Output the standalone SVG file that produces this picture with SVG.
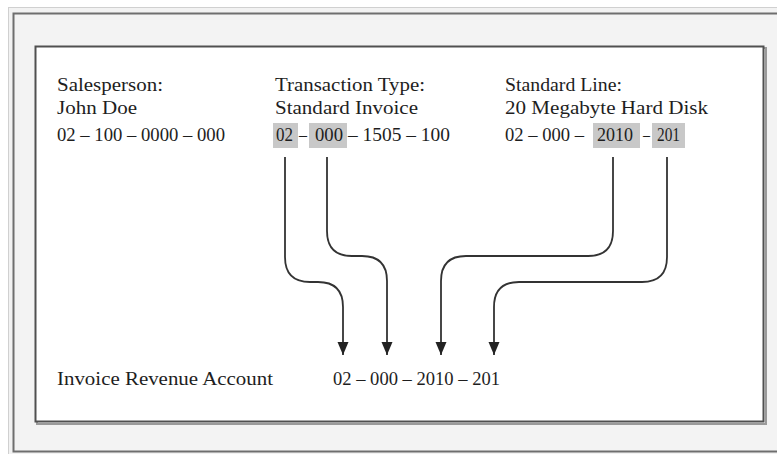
<svg xmlns="http://www.w3.org/2000/svg" width="777" height="454" viewBox="0 0 777 454">
  <defs>
    <style>
      .t { font-family: "Liberation Serif", "DejaVu Serif", serif; font-size: 19px; fill: #1e1e1e; }
      .hl { fill: #c8c8c8; }
      .conn { fill: none; stroke: #333; stroke-width: 1.8; }
    </style>
    <marker id="arrow" markerUnits="userSpaceOnUse" markerWidth="13" markerHeight="12" refX="13" refY="6" orient="auto" viewBox="0 0 13 12">
      <path d="M0,0.5 L13,6 L0,11.5 Z" fill="#222"/>
    </marker>
  </defs>

  <!-- page background and outer frame -->
  <rect x="0" y="0" width="777" height="454" fill="#ffffff"/>
  <rect x="8.5" y="7.5" width="790" height="460" fill="#f2f2f2" stroke="#d0d0d0" stroke-width="1"/>
  <rect x="13.5" y="13.5" width="790" height="438" fill="#f3f3f3" stroke="#6e6e6e" stroke-width="2"/>

  <!-- inner box -->
  <g id="panel">
    <rect x="37" y="48" width="729" height="376" fill="none" stroke="#9a9a9a" stroke-width="2"/>
    <rect x="35.5" y="46.5" width="728" height="375" fill="#ffffff" stroke="#505050" stroke-width="2"/>
  </g>

  <g id="salesperson">
    <text class="t" x="57" y="91" textLength="106" lengthAdjust="spacingAndGlyphs">Salesperson:</text>
    <text class="t" x="57" y="114" textLength="80" lengthAdjust="spacingAndGlyphs">John Doe</text>
    <text class="t" x="57" y="141" textLength="168" lengthAdjust="spacingAndGlyphs">02 – 100 – 0000 – 000</text>
  </g>

  <g id="transaction-type">
    <text class="t" x="275" y="91" textLength="150" lengthAdjust="spacingAndGlyphs">Transaction Type:</text>
    <text class="t" x="275" y="114" textLength="143" lengthAdjust="spacingAndGlyphs">Standard Invoice</text>
    <rect class="hl" x="273" y="123" width="25" height="25"/>
    <rect class="hl" x="309" y="123" width="38" height="25"/>
    <text class="t" x="276" y="141" textLength="17" lengthAdjust="spacingAndGlyphs">02</text>
    <text class="t" x="299" y="141" textLength="8" lengthAdjust="spacingAndGlyphs">–</text>
    <text class="t" x="315" y="141" textLength="28" lengthAdjust="spacingAndGlyphs">000</text>
    <text class="t" x="348" y="141" textLength="102" lengthAdjust="spacingAndGlyphs">– 1505 – 100</text>
  </g>

  <g id="standard-line">
    <text class="t" x="505" y="91" textLength="117" lengthAdjust="spacingAndGlyphs">Standard Line:</text>
    <text class="t" x="505" y="114" textLength="203" lengthAdjust="spacingAndGlyphs">20 Megabyte Hard Disk</text>
    <rect class="hl" x="593" y="123" width="47" height="25"/>
    <rect class="hl" x="652" y="123" width="33" height="25"/>
    <text class="t" x="505" y="141" textLength="79" lengthAdjust="spacingAndGlyphs">02 – 000 –</text>
    <text class="t" x="597" y="141" textLength="36" lengthAdjust="spacingAndGlyphs">2010</text>
    <text class="t" x="643" y="141" textLength="7" lengthAdjust="spacingAndGlyphs">–</text>
    <text class="t" x="657" y="141" textLength="23" lengthAdjust="spacingAndGlyphs">201</text>
  </g>

  <g id="invoice-revenue-account">
    <text class="t" x="57" y="385" textLength="216" lengthAdjust="spacingAndGlyphs">Invoice Revenue Account</text>
    <text class="t" x="333" y="385" textLength="167" lengthAdjust="spacingAndGlyphs">02 – 000 – 2010 – 201</text>
  </g>

  <g id="connectors">
    <path class="conn" marker-end="url(#arrow)" d="M285,157 V257 Q285,282 310,282 H318 Q343,282 343,307 V355"/>
    <path class="conn" marker-end="url(#arrow)" d="M327,157 V231 Q327,256 352,256 H362 Q387,256 387,281 V355"/>
    <path class="conn" marker-end="url(#arrow)" d="M613,157 V231 Q613,256 588,256 H466 Q441,256 441,281 V355"/>
    <path class="conn" marker-end="url(#arrow)" d="M667,157 V257 Q667,282 642,282 H519 Q494,282 494,307 V355"/>
  </g>
</svg>
